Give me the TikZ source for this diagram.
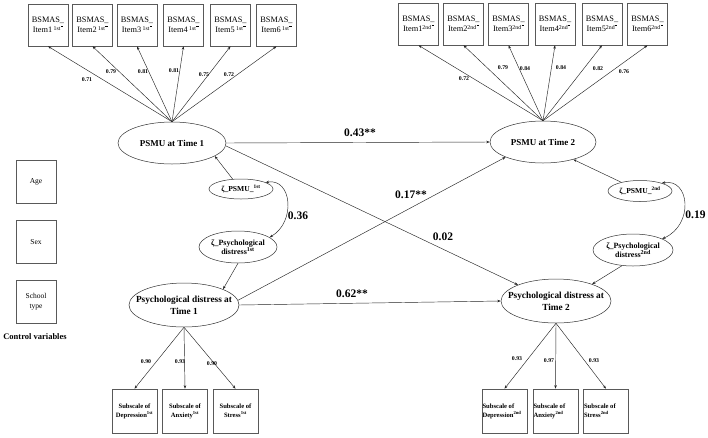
\documentclass[tikz,border=0pt]{standalone}
\usepackage{fontspec}
\setmainfont{Liberation Serif}
\usetikzlibrary{shapes.geometric,arrows.meta}
\newcommand{\mymac}{\raisebox{1.75ex}{\rule{2.2pt}{0.3pt}}}
\begin{document}
\begin{tikzpicture}[x=1pt,y=-1pt,
  box/.style={draw=black!65, line width=0.6pt, inner sep=0pt, align=center},
  itembox/.style={box, minimum width=40pt, minimum height=42pt, font=\fontsize{8.3}{10.5}\selectfont},
  ctrlbox/.style={box, minimum width=40pt, minimum height=43pt, font=\fontsize{7.5}{10}\selectfont},
  subbox/.style={box, minimum width=45pt, minimum height=44pt},
  subtext/.style={font=\bfseries\fontsize{6.6}{9}\selectfont, inner sep=0.6pt},
  lat/.style={ellipse, draw=black!80, line width=0.5pt, inner sep=0pt},
  lattext/.style={font=\bfseries\fontsize{9}{11.5}\selectfont, align=center, inner sep=0pt},
  restext/.style={font=\bfseries\fontsize{7.6}{9}\selectfont, align=center, inner sep=0pt},
  arr/.style={draw=black!85, line width=0.45pt, -{Stealth[length=3.5pt,width=2.5pt]}},
  cov/.style={draw=black!85, line width=0.45pt, {Stealth[length=3.5pt,width=2.5pt]}-{Stealth[length=3.5pt,width=2.5pt]}},
  load/.style={font=\bfseries\fontsize{5.8}{7}\selectfont, inner sep=0.5pt},
  plab/.style={font=\bfseries\fontsize{11.5}{13}\selectfont, inner sep=0pt}]
\useasboundingbox (0,0) rectangle (708,437);
\fill[white] (0,0) rectangle (708,437);

% item boxes
\foreach \i/\x in {1/48,2/92.5,3/137,4/183.5,5/230.5,6/276.5}
  \node[itembox] (a\i) at (\x,25) {BSMAS\_\\Item\i\,\textsuperscript{1st}\mymac};
\foreach \i/\x in {1/418.5,2/463.5,3/508.5,4/555,5/602,6/647.5}
  \node[itembox] (b\i) at (\x,24) {BSMAS\_\\Item\i\textsuperscript{2nd}\mymac};

% control variables
\node[ctrlbox] (age) at (36,181.5) {Age};
\node[ctrlbox] (sex) at (36,242) {Sex};
\node[ctrlbox] (sch) at (36,301.5) {School\\type};
\node[font=\bfseries\fontsize{8.5}{10}\selectfont, inner sep=0pt] (ctrl) at (35,337) {Control variables};

% latent ellipses
\node[lat, minimum width=108pt, minimum height=42pt] (p1) at (172,143) {};
\node[lattext] (p1t) at (p1) {PSMU at Time 1};
\node[lat, minimum width=106pt, minimum height=42pt] (p2) at (543,142) {};
\node[lattext] (p2t) at (p2) {PSMU at Time 2};
\node[lat, minimum width=110pt, minimum height=44pt] (pd1) at (184,305) {};
\node[lattext, font=\bfseries\fontsize{9.3}{11.7}\selectfont] (pd1t) at (pd1) {Psychological distress at\\Time 1};
\node[lat, minimum width=110pt, minimum height=44pt] (pd2) at (556,301) {};
\node[lattext, font=\bfseries\fontsize{9.3}{11.7}\selectfont] (pd2t) at (pd2) {Psychological distress at\\Time 2};

% residuals
\node[lat, minimum width=64pt, minimum height=20pt] (z1) at (241,189) {};
\node[restext] (z1t) at (z1) {ζ\_PSMU\_\textsuperscript{1st}};
\node[lat, minimum width=64pt, minimum height=21pt] (z2) at (640,191) {};
\node[restext] (z2t) at (z2) {ζ\_PSMU\_\textsuperscript{2nd}};
\node[lat, minimum width=78pt, minimum height=32pt] (zd1) at (238,247) {};
\node[restext, font=\bfseries\fontsize{8}{9.5}\selectfont] (zd1t) at (zd1) {ζ\_Psychological\\distress\textsuperscript{1st}};
\node[lat, minimum width=80pt, minimum height=32pt] (zd2) at (633,250) {};
\node[restext, font=\bfseries\fontsize{8}{9.5}\selectfont] (zd2t) at (zd2) {ζ\_Psychological\\distress\textsuperscript{2nd}};

% subscale boxes
\node[subbox] (s1) at (134.5,411) {};
\node[subtext, align=center] (s1t) at (s1) {Subscale of\\Depression\textsuperscript{1st}};
\node[subbox] (s2) at (185,411) {};
\node[subtext, align=center] (s2t) at (s2) {Subscale of\\Anxiety\textsuperscript{1st}};
\node[subbox] (s3) at (235.5,411) {};
\node[subtext, align=center] (s3t) at (s3) {Subscale of\\Stress\textsuperscript{1st}};
\node[subbox] (t1) at (504.5,411) {};
\node[subtext, align=left, anchor=west] (t1t) at (t1.west) {Subscale of\\Depression\textsuperscript{2nd}};
\node[subbox] (t2) at (555.5,411) {};
\node[subtext, align=left, anchor=west] (t2t) at (t2.west) {Subscale of\\Anxiety\textsuperscript{2nd}};
\node[subbox] (t3) at (606,411) {};
\node[subtext, align=left, anchor=west] (t3t) at (t3.west) {Subscale of\\Stress\textsuperscript{2nd}};

% loading arrows
\foreach \i in {1,...,6} {
  \draw[arr] (p1.north) -- (a\i.south);
  \draw[arr] (p2.north) -- (b\i.south);
}
\foreach \i in {1,2,3} {
  \draw[arr] (pd1.south) -- (s\i.north);
  \draw[arr] (pd2.south) -- (t\i.north);
}

% structural paths
\draw[arr] (p1.east) -- (p2.west);
\draw[arr] (p1.-3) -- (pd2.157);
\draw[arr] (pd1.5) -- (p2.202);
\draw[arr] (pd1.east) -- (pd2.west);
\draw[arr] (z1.130) -- (p1.-17);
\draw[arr] (z2.155) -- (p2.-30);
\draw[arr] (zd1.south) -- (pd1.22);
\draw[arr] (zd2.235) -- (pd2.25);
\draw[cov] (z1.15) .. controls (292,178) and (296,222) .. (zd1.17);
\draw[cov] (z2.20) .. controls (690,178) and (694,225) .. (zd2.21);

% loading labels
\node[load] (l1) at (87,80) {0.71};
\node[load] (l2) at (111,72) {0.79};
\node[load] (l3) at (143,72) {0.81};
\node[load] (l4) at (174,71) {0.81};
\node[load] (l5) at (204,75) {0.75};
\node[load] (l6) at (229,75) {0.72};
\node[load] (m1) at (464,79) {0.72};
\node[load] (m2) at (503,68) {0.79};
\node[load] (m3) at (525,69) {0.84};
\node[load] (m4) at (561,68) {0.84};
\node[load] (m5) at (598,69) {0.82};
\node[load] (m6) at (624,72) {0.76};
\node[load] (n1) at (146,362) {0.90};
\node[load] (n2) at (180,362) {0.93};
\node[load] (n3) at (212,364) {0.90};
\node[load] (o1) at (517,359) {0.93};
\node[load] (o2) at (549,361) {0.97};
\node[load] (o3) at (594,361) {0.93};

% path labels
\node[plab] (q1) at (360,133) {0.43**};
\node[plab] (q2) at (411,195) {0.17**};
\node[plab] (q3) at (443,237) {0.02};
\node[plab] (q4) at (298,216) {0.36};
\node[plab] (q5) at (695.5,215) {0.19};
\node[plab] (q6) at (352,294) {0.62**};
\end{tikzpicture}
\end{document}
